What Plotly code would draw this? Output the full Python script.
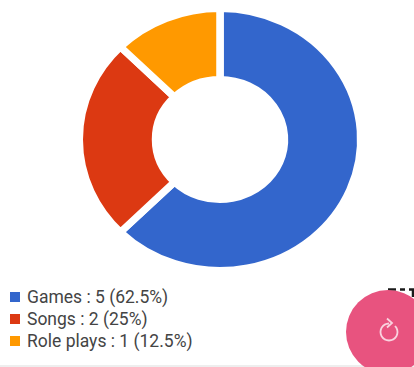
import math
import plotly.graph_objects as go

# Activity breakdown
categories = ["Games", "Songs", "Role plays"]
counts = [5, 2, 1]
shares = ["62.5%", "25%", "12.5%"]
colors = ["#3366CC", "#DC3912", "#FF9900"]

WIDTH, HEIGHT = 414, 367
CX, CY = 220, 139.5
RY = 131  # slice radius including the white separator stroke
STRETCH = 274 / 255  # the ring is slightly wider than tall


def px(x):
    return x / WIDTH


def py(y):
    return 1 - y / HEIGHT


def polyline(points):
    return "M" + " L".join(f"{px(x):.5f},{py(y):.5f}" for x, y in points)


fig = go.Figure(
    go.Pie(
        labels=categories,
        values=counts,
        hole=0.458,
        sort=False,
        direction="clockwise",
        rotation=0,
        textinfo="none",
        hoverinfo="label+value+percent",
        marker=dict(colors=colors, line=dict(color="#FFFFFF", width=7)),
        domain=dict(
            x=[px(CX - RY), px(CX + RY)],
            y=[py(CY + RY), py(CY - RY)],
        ),
        showlegend=False,
    )
)

shapes = []
annotations = []

# Key below the ring
row_y = [297, 319, 341]
for name, count, share, color, y in zip(categories, counts, shares, colors, row_y):
    shapes.append(dict(type="rect", xref="paper", yref="paper",
                       x0=px(10), x1=px(20), y0=py(y + 5), y1=py(y - 5),
                       fillcolor=color, line_width=0, layer="above"))
    annotations.append(dict(xref="paper", yref="paper", x=px(25), y=py(y),
                            xanchor="left", yanchor="middle", showarrow=False,
                            text=f"{name} : {count} ({share})",
                            font=dict(family="Roboto", size=17.5, color="#444444")))

# Corner glyph partly hidden by the action button
for segment in ([(388, 289.5), (396, 289.5)],
                [(400, 289.5), (405, 289.5)],
                [(409, 289.5), (413, 289.5), (413, 297)]):
    shapes.append(dict(type="path", xref="paper", yref="paper",
                       path=polyline(segment),
                       line=dict(color="#1A1A1A", width=2.5), layer="above"))

# Round action button
shapes.append(dict(type="circle", xref="paper", yref="paper",
                   x0=px(346), x1=px(430), y0=py(374), y1=py(290),
                   fillcolor="#E8537F", line_width=0, layer="above"))

# Refresh icon: an open circle, gap at the upper right, arrowhead on top
ICON_X, ICON_Y, ICON_R = 389, 332, 8.5
arc = [(ICON_X + ICON_R * math.sin(math.radians(a)),
        ICON_Y - ICON_R * math.cos(math.radians(a)))
       for a in range(45, 361, 15)]
icon_line = dict(color="#F9D3DF", width=1.8)
shapes.append(dict(type="path", xref="paper", yref="paper", path=polyline(arc),
                   line=icon_line, layer="above"))
shapes.append(dict(type="path", xref="paper", yref="paper",
                   path=polyline([(ICON_X - 2, ICON_Y - ICON_R - 5),
                                  (ICON_X + 3, ICON_Y - ICON_R - 0.5),
                                  (ICON_X - 2, ICON_Y - ICON_R + 4)]),
                   line=icon_line, layer="above"))

# Hairline along the bottom edge
shapes.append(dict(type="rect", xref="paper", yref="paper",
                   x0=0, x1=1, y0=0, y1=py(365),
                   fillcolor="#EEEEEE", line_width=0, layer="below"))

fig.update_layout(
    width=WIDTH, height=HEIGHT,
    margin=dict(l=0, r=0, t=0, b=0),
    paper_bgcolor="#FFFFFF",
    plot_bgcolor="#FFFFFF",
    shapes=shapes,
    annotations=annotations,
)

# Widen the ring horizontally about its centre
stretch_js = f"""
var layer = document.querySelector('.pielayer');
if (layer) {{
  layer.setAttribute('transform', 'translate({CX} 0) scale({STRETCH} 1) translate({-CX} 0)');
}}
"""

fig.write_html("out.html", post_script=stretch_js, config=dict(displayModeBar=False))
